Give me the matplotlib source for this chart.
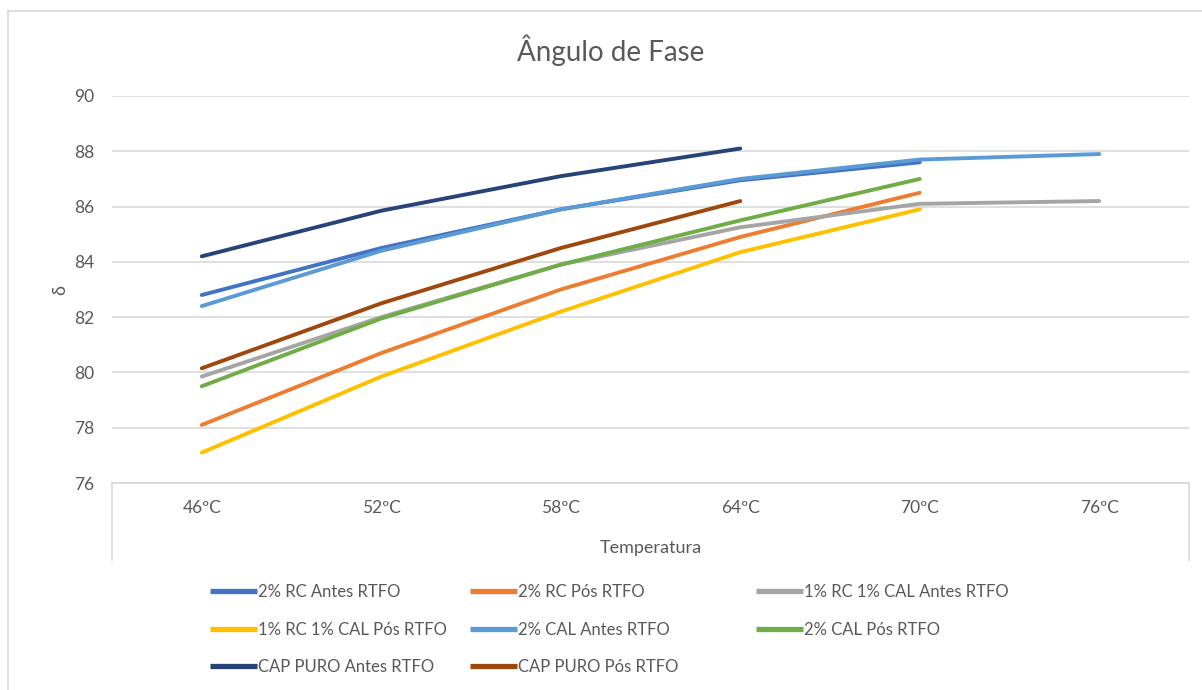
import matplotlib
matplotlib.use("Agg")
import matplotlib.pyplot as plt
from matplotlib.lines import Line2D

W, H = 1202, 690

temps = ['46ºC', '52ºC', '58ºC', '64ºC', '70ºC', '76ºC']
rc2_antes = [82.8, 84.5, 85.9, 86.95, 87.6]
rc2_pos = [78.1, 80.7, 83.0, 84.9, 86.5]
rc1cal1_antes = [79.85, 82.0, 83.9, 85.25, 86.1, 86.2]
rc1cal1_pos = [77.1, 79.85, 82.2, 84.35, 85.9]
cal2_antes = [82.4, 84.4, 85.9, 87.0, 87.7, 87.9]
cal2_pos = [79.5, 81.95, 83.9, 85.5, 87.0]
cap_antes = [84.2, 85.85, 87.1, 88.1]
cap_pos = [80.15, 82.5, 84.5, 86.2]

labels = ['2% RC Antes RTFO', '2% RC Pós RTFO', '1% RC 1% CAL Antes RTFO',
          '1% RC 1% CAL Pós RTFO', '2% CAL Antes RTFO', '2% CAL Pós RTFO',
          'CAP PURO Antes RTFO', 'CAP PURO Pós RTFO']
series = [rc2_antes, rc2_pos, rc1cal1_antes, rc1cal1_pos, cal2_antes, cal2_pos,
          cap_antes, cap_pos]
colors = ['#4472C4', '#ED7D31', '#A5A5A5', '#FFC000', '#5B9BD5', '#70AD47',
          '#264478', '#9E480E']

plt.rcParams['font.family'] = ['Lato', 'DejaVu Sans']
TXT = '#595959'
GRID = '#D9D9D9'

fig = plt.figure(figsize=(W / 100, H / 100), dpi=100)
fig.patch.set_facecolor('white')

# outer chart border (top and left visible)
fig.add_artist(Line2D([8 / W, 1.0], [1 - 11 / H, 1 - 11 / H], color=GRID, lw=1.2))
fig.add_artist(Line2D([8 / W, 8 / W], [0.0, 1 - 11 / H], color=GRID, lw=1.2))

left, right, top, bottom = 112, 1189, 96, 483
ax = fig.add_axes([left / W, 1 - bottom / H, (right - left) / W, (bottom - top) / H])

handles = []
for lab, vals, c in zip(labels, series, colors):
    h, = ax.plot(range(len(vals)), vals, color=c, lw=2.8, solid_capstyle='round',
                 solid_joinstyle='round', label=lab)
    handles.append(h)

ax.set_xlim(-0.5, len(temps) - 0.5)
ax.set_ylim(76, 90)
ax.set_yticks(range(76, 91, 2))
ax.set_xticks(range(len(temps)))
ax.set_xticklabels(temps)
ax.yaxis.grid(True, color=GRID, lw=1.2)
ax.set_axisbelow(True)
for s in ['left', 'right', 'top']:
    ax.spines[s].set_visible(False)
ax.spines['bottom'].set_color(GRID)
ax.spines['bottom'].set_linewidth(1.2)
ax.tick_params(axis='both', length=0, labelsize=12.5, labelcolor=TXT)
ax.tick_params(axis='x', pad=12.5)
ax.tick_params(axis='y', pad=13)

# category axis box sides
for xf in (0.0, 1.0):
    ax.add_line(Line2D([xf, xf], [0, -(560 - 483) / (bottom - top)],
                       transform=ax.transAxes, color=GRID, lw=1.2, clip_on=False))

ax.set_xlabel('Temperatura', fontsize=13, color=TXT)
ax.xaxis.set_label_coords(0.5, -(548 - 483) / (bottom - top))
ax.xaxis.label.set_va('center')
fig.text(60 / W, 1 - 290 / H, 'δ', rotation=90, fontsize=13, color=TXT,
         ha='center', va='center')

fig.text(611 / W, 1 - 50 / H, 'Ângulo de Fase', fontsize=20, color=TXT,
         ha='center', va='center')

# legend: three columns placed like the original
cols = [([0, 3, 6], 210), ([1, 4, 7], 470), ([2, 5], 756)]
for idx, x0 in cols:
    lg = fig.legend([handles[i] for i in idx], [labels[i] for i in idx],
                    loc='upper left', bbox_to_anchor=(x0 / W, 1 - 584 / H),
                    frameon=False, fontsize=12, handlelength=2.8,
                    handletextpad=0.1, labelspacing=1.3, borderpad=0,
                    borderaxespad=0)
    for t in lg.get_texts():
        t.set_color(TXT)
    for l in lg.get_lines():
        l.set_linewidth(3.8)
        l.set_solid_capstyle('butt')

fig.savefig('out.png', dpi=100, facecolor='white')
